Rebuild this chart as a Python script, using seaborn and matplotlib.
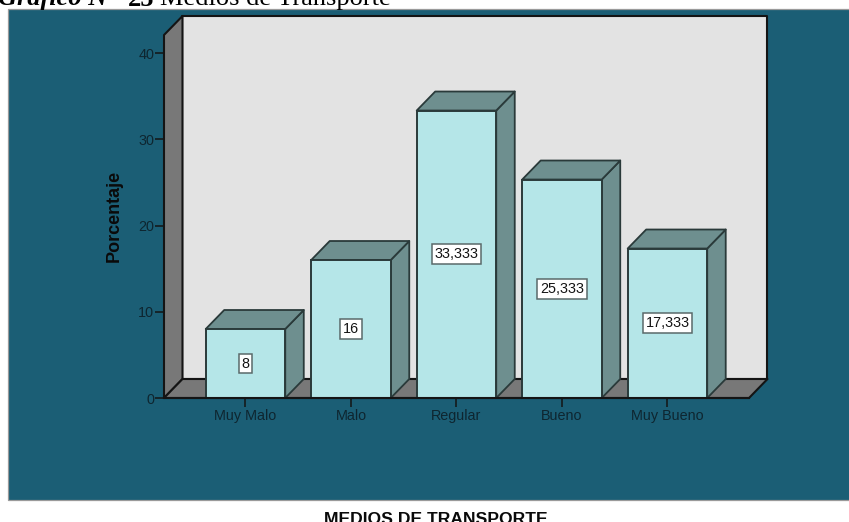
import matplotlib
matplotlib.use("Agg")
import matplotlib.pyplot as plt
from matplotlib.patches import Polygon, Rectangle
import seaborn as sns

categories = ["Muy Malo", "Malo", "Regular", "Bueno", "Muy Bueno"]
values = [8, 16, 33.333, 25.333, 17.333]
value_labels = ["8", "16", "33,333", "25,333", "17,333"]
y_ticks = [0, 10, 20, 30, 40]

W, H = 849, 522
PANEL = "#1B5E75"
WALL = "#E3E3E3"
FLOOR = "#787878"
FRONT = "#B5E6E8"
SHADE = "#6E8F8F"
INK = "#141414"

sns.set_style("white")
plt.rcParams["font.family"] = ["Liberation Sans", "DejaVu Sans"]

fig = plt.figure(figsize=(W / 100, H / 100), dpi=100, facecolor="white")
fig.patches.append(Rectangle((8 / W, 1 - 500 / H), 842 / W, 491 / H, transform=fig.transFigure,
                             facecolor=PANEL, edgecolor="#9A9A9A", linewidth=0.9, zorder=-1))
ax = fig.add_axes([164 / W, 1 - 398 / H, 585 / W, 363 / H])
ax.patch.set_visible(False)

sns.barplot(x=categories, y=values, width=0.754, color=FRONT, saturation=1, ax=ax,
            edgecolor="#2A3A3A", linewidth=1.4, zorder=3)
ax.set_xlim(-0.7725, 4.773)
ax.set_ylim(0, 42.09)

dx = 18.5 / 105.5
dy = 19 / 8.625
x0, x1 = ax.get_xlim()
y1 = ax.get_ylim()[1]

def face(points, color, z, edge=INK, lw=1.5):
    ax.add_patch(Polygon(points, closed=True, facecolor=color, edgecolor=edge, linewidth=lw,
                         zorder=z, clip_on=False, joinstyle="round"))

face([(x0 + dx, dy), (x1 + dx, dy), (x1 + dx, y1 + dy), (x0 + dx, y1 + dy)], WALL, 1)
face([(x0, 0), (x0 + dx, dy), (x0 + dx, y1 + dy), (x0, y1)], FLOOR, 1.2)
face([(x0, 0), (x1, 0), (x1 + dx, dy), (x0 + dx, dy)], FLOOR, 1.2)

for bar, label in zip(ax.patches[:len(values)], value_labels):
    l, r, v = bar.get_x(), bar.get_x() + bar.get_width(), bar.get_height()
    face([(r, 0), (r + dx, dy), (r + dx, v + dy), (r, v)], SHADE, 2, "#2A3A3A", 1.3)
    face([(l, v), (r, v), (r + dx, v + dy), (l + dx, v + dy)], SHADE, 2, "#2A3A3A", 1.3)
    ax.text((l + r) / 2, v / 2, label, ha="center", va="center", fontsize=10.4, color=INK, zorder=5,
            bbox=dict(boxstyle="square,pad=0.2", facecolor="white", edgecolor="#5A6A6A", linewidth=1.1))

for s in ax.spines.values():
    s.set_visible(False)
ax.spines["bottom"].set_visible(True)
ax.spines["bottom"].set_color(INK)
ax.spines["bottom"].set_linewidth(1.5)
ax.spines["bottom"].set_zorder(6)

ax.set_yticks(y_ticks)
ax.tick_params(axis="both", which="major", direction="out", length=6.5, width=1.1, color=INK,
               labelcolor="#0E2630", labelsize=10.4, bottom=True, left=True)
ax.tick_params(axis="x", pad=1.5)
ax.tick_params(axis="y", pad=0.5)
ax.grid(False)

ax.set_ylabel("Porcentaje", fontsize=13, fontweight="bold", color="#0A0A0A")
ax.yaxis.set_label_coords((123 - 164) / 585, (398 - 216) / 363)
ax.set_xlabel("MEDIOS DE TRANSPORTE", fontsize=12.6, fontweight="bold", color="#0A0A0A")
ax.xaxis.set_label_coords((436 - 164) / 585, (398 - 519) / 363)
ax.xaxis.label.set_verticalalignment("center")

serif = ["Liberation Serif", "DejaVu Serif"]
fig.text(-2 / W, 1 - 5.5 / H, "Gráfico N°", family=serif, fontsize=19, style="italic", fontweight="bold",
         ha="left", va="baseline", color="black")
fig.text(128 / W, 1 - 5.5 / H, "25", family=serif, fontsize=19, fontweight="bold",
         ha="left", va="baseline", color="black")
fig.text(160 / W, 1 - 5.5 / H, "Medios de Transporte", family=serif, fontsize=19,
         ha="left", va="baseline", color="black")

fig.savefig("out.png", dpi=100)
